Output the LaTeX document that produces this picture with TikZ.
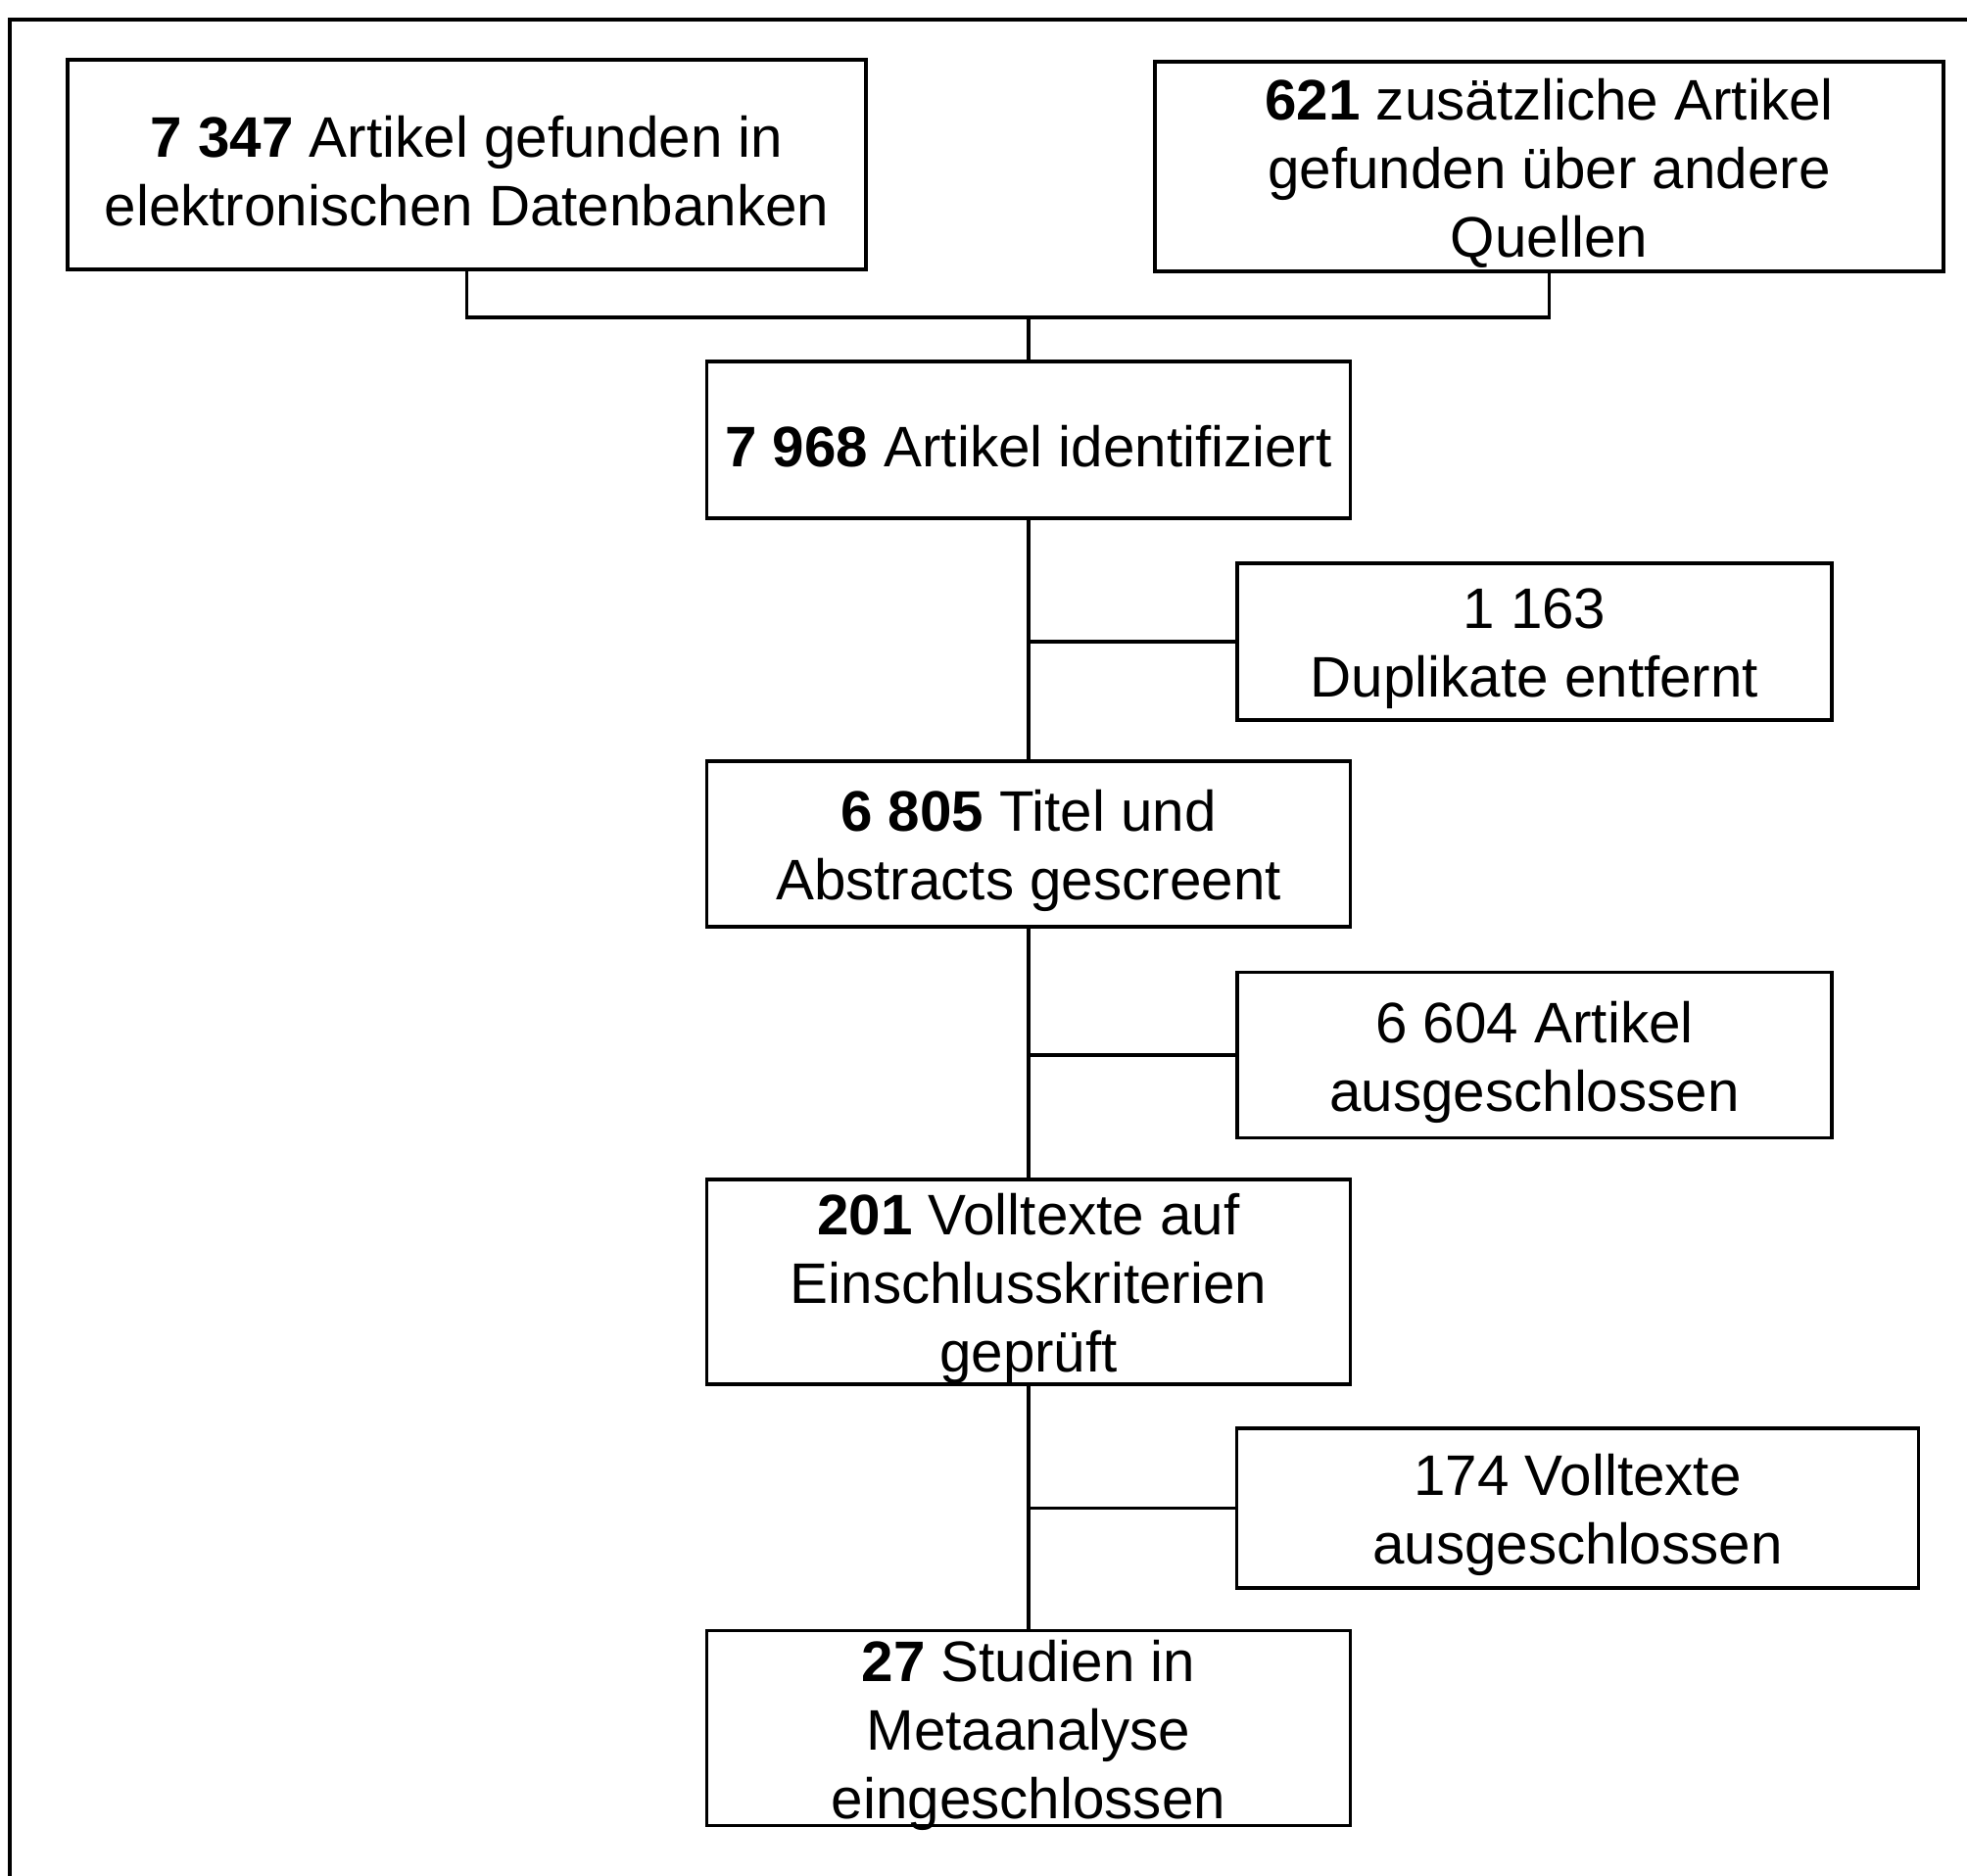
\documentclass[tikz,border=0pt]{standalone}
\usepackage{fontspec}
\setmainfont{Liberation Sans}
\usepackage{tikz}
\usetikzlibrary{positioning}

\begin{document}
\begin{tikzpicture}[box/.style={rectangle, draw, line width=1.1pt, inner sep=0pt}, boxtext/.style={inner sep=0pt, align=center, yshift=-2pt, font=\fontsize{16.6}{19.9}\selectfont}, link/.style={line width=1.1pt}]
    \useasboundingbox (0, 0) rectangle (20.08, -19.15);
    % Rahmen
    \draw[line width=0.9pt] (0.1, -19.15) -- (0.1, -0.2) -- (20.08, -0.2);

    % Boxen
    \node[box, minimum width=8.15cm, minimum height=2.14cm, label={[boxtext]center:\textbf{7 347} Artikel gefunden in\\elektronischen Datenbanken}] (databases) at (4.765, -1.68) {};
    \node[box, minimum width=8.05cm, minimum height=2.14cm, label={[boxtext]center:\textbf{621} zusätzliche Artikel\\gefunden über andere\\Quellen}] (othersources) at (15.815, -1.70) {};
    \node[box, minimum width=6.57cm, minimum height=1.60cm, label={[boxtext]center:\textbf{7 968} Artikel identifiziert}] (identified) at (10.50, -4.49) {};
    \node[box, minimum width=6.07cm, minimum height=1.60cm, label={[boxtext]center:1 163\\Duplikate entfernt}] (duplicates) at (15.665, -6.55) {};
    \node[box, minimum width=6.57cm, minimum height=1.69cm, label={[boxtext]center:\textbf{6 805} Titel und\\Abstracts gescreent}] (screened) at (10.50, -8.615) {};
    \node[box, minimum width=6.07cm, minimum height=1.69cm, label={[boxtext]center:6 604 Artikel\\ausgeschlossen}] (excluded) at (15.665, -10.77) {};
    \node[box, minimum width=6.57cm, minimum height=2.09cm, label={[boxtext]center:\textbf{201} Volltexte auf\\Einschlusskriterien\\geprüft}] (fulltext) at (10.50, -13.085) {};
    \node[box, minimum width=6.96cm, minimum height=1.63cm, label={[boxtext]center:174 Volltexte\\ausgeschlossen}] (fulltextexcluded) at (16.105, -15.395) {};
    \node[box, minimum width=6.57cm, minimum height=1.99cm, label={[boxtext]center:\textbf{27} Studien in\\Metaanalyse\\eingeschlossen}] (included) at (10.50, -17.64) {};

    % Linien
    \coordinate (merge) at (10.50, -3.24);
    \draw[link] (databases.south) |- (merge) -| (othersources.south);
    \draw[link] (merge) -- (identified.north);

    \draw[link] (identified.south) -- (screened.north);
    \draw[link] (screened.south) -- (fulltext.north);
    \draw[link] (fulltext.south) -- (included.north);

    \draw[link] (duplicates.west) -- (duplicates.west -| identified.south);
    \draw[link] (excluded.west) -- (excluded.west -| screened.south);
    \draw[link] (fulltextexcluded.west) -- (fulltextexcluded.west -| fulltext.south);

\end{tikzpicture}
\end{document}
